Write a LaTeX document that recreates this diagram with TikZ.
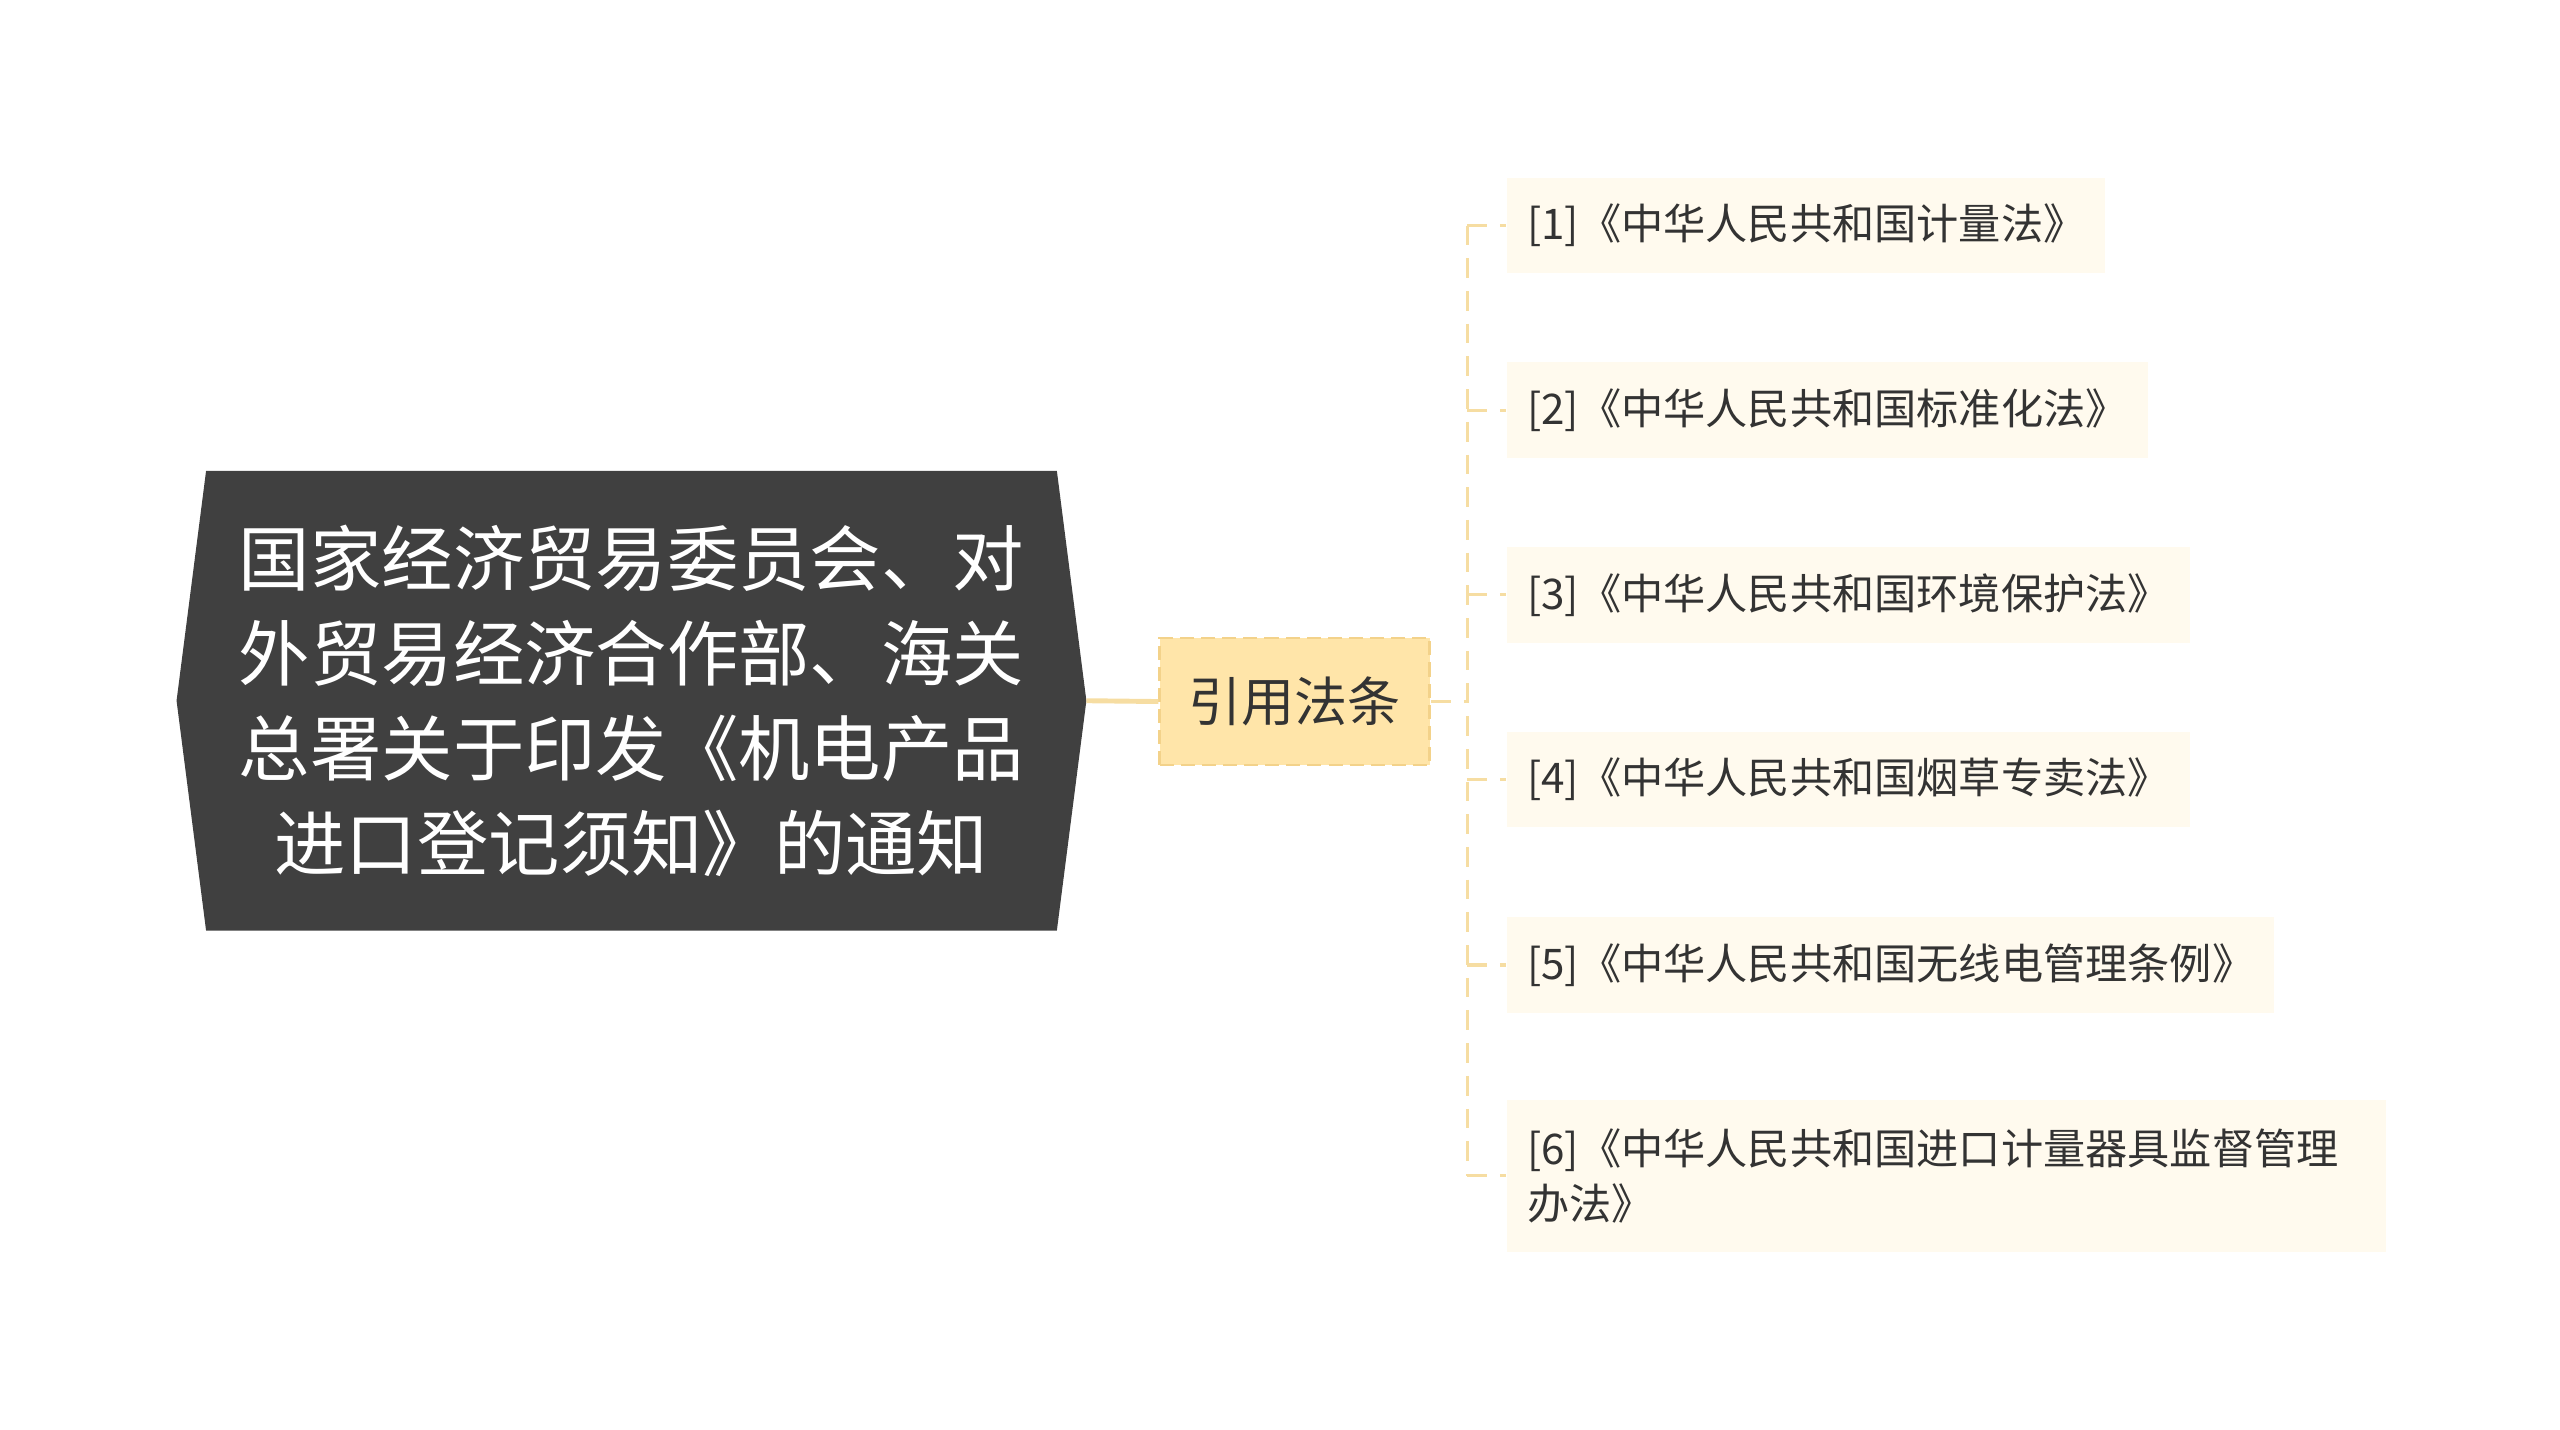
\documentclass[tikz,border=0pt]{standalone}
\usepackage{fontspec}
\setmainfont{Noto Sans CJK SC}
\usepackage{xcolor}
\usetikzlibrary{backgrounds}
\definecolor{rootgray}{HTML}{404040}
\definecolor{linkyellow}{HTML}{F6DDA2}
\definecolor{midfill}{HTML}{FFE5A9}
\definecolor{midborder}{HTML}{F3D28A}
\definecolor{leaffill}{HTML}{FFFAEE}
\definecolor{inktext}{HTML}{333333}

\begin{document}
\begin{tikzpicture}[x=0.01641cm,y=-0.01641cm]
\tikzstyle{rootbox}=[rectangle,minimum width=8.49cm,minimum height=4.58cm,inner sep=0pt,align=center,text=white,font=\fontsize{20.3pt}{27pt}\selectfont]
\tikzstyle{midbox}=[rectangle,fill=midfill,draw=midborder,dashed,line width=0.8pt,dash pattern=on 4pt off 2pt,minimum width=2.70cm,minimum height=1.27cm,inner sep=0pt,text=inktext,font=\fontsize{15.1pt}{18pt}\selectfont]
\tikzstyle{leafbox}=[rectangle,fill=leaffill,anchor=west,minimum height=0.955cm,inner xsep=0.2cm,inner ysep=0pt,align=left,text=inktext,font=\fontsize{12pt}{15.6pt}\selectfont]
\tikzstyle{branch}=[draw=linkyellow,line width=0.9pt,dash pattern=on 5.6pt off 3.7pt]

\useasboundingbox (0,0) rectangle (1560,871);

\node[rootbox](root) at (384.8,427){国家经济贸易委员会、对\\外贸易经济合作部、海关\\总署关于印发《机电产品\\进口登记须知》的通知};
\begin{scope}[on background layer]
\fill[rootgray] (root.north west) -- (root.north east) -- ([xshift=0.295cm]root.east) -- (root.south east) -- (root.south west) -- ([xshift=-0.295cm]root.west) -- cycle;
\end{scope}

\node[midbox](mid) at (789,427.5){引用法条};

\node[leafbox](law1) at (918,137.5){[1]《中华人民共和国计量法》};
\node[leafbox](law2) at (918,250){[2]《中华人民共和国标准化法》};
\node[leafbox](law3) at (918,362.5){[3]《中华人民共和国环境保护法》};
\node[leafbox](law4) at (918,475){[4]《中华人民共和国烟草专卖法》};
\node[leafbox](law5) at (918,588){[5]《中华人民共和国无线电管理条例》};
\node[leafbox,text width=8.38cm,minimum height=1.52cm](law6) at (918,716.5){[6]《中华人民共和国进口计量器具监督管理\\办法》};

\coordinate (trunk) at (894,427.5);

\draw [linkyellow,line width=1.4pt] ([xshift=0.295cm]root.east) to (mid.west);
\draw [branch] (mid.east) to (trunk);
\draw [branch] (trunk |- law1.west) to (trunk |- law6.west);
\draw [branch] (trunk |- law1.west) to (law1.west);
\draw [branch] (trunk |- law2.west) to (law2.west);
\draw [branch] (trunk |- law3.west) to (law3.west);
\draw [branch] (trunk |- law4.west) to (law4.west);
\draw [branch] (trunk |- law5.west) to (law5.west);
\draw [branch] (trunk |- law6.west) to (law6.west);
\end{tikzpicture}
\end{document}
